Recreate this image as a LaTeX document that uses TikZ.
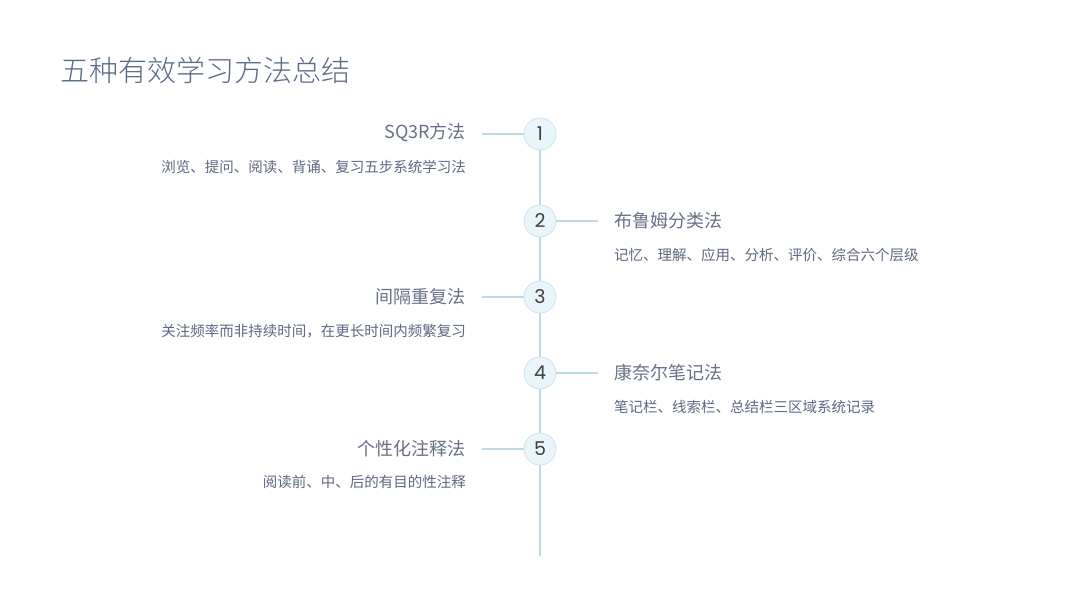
\documentclass[tikz,border=0pt]{standalone}
\usepackage{fontspec}
\newfontfamily\cjk{Noto Sans CJK SC}
\newfontfamily\cjklight{Noto Sans CJK SC Light}
\newfontfamily\numfont{Poppins}
\definecolor{titlec}{HTML}{5B6B88}
\definecolor{headc}{HTML}{687088}
\definecolor{descc}{HTML}{5E6883}
\definecolor{linec}{HTML}{BCD9E5}
\definecolor{circfill}{HTML}{E9F5FB}
\definecolor{circdraw}{HTML}{CBE4EF}
\begin{document}
\begin{tikzpicture}[x=1pt,y=-1pt,
  dot/.style={circle,draw=circdraw,fill=circfill,line width=0.8pt,minimum size=32pt,inner sep=0pt,font=\numfont\fontsize{19}{19}\selectfont,text=black!75},
  conn/.style={draw=linec,line width=1.2pt},
  headL/.style={anchor=east,font=\cjk\fontsize{18}{18}\selectfont,text=headc,inner sep=0pt},
  headR/.style={anchor=west,font=\cjk\fontsize{18}{18}\selectfont,text=headc,inner sep=0pt},
  descL/.style={anchor=east,font=\cjk\fontsize{14.5}{14.5}\selectfont,text=descc,inner sep=0pt},
  descR/.style={anchor=west,font=\cjk\fontsize{14.5}{14.5}\selectfont,text=descc,inner sep=0pt}]
\useasboundingbox (0,0) rectangle (1080,608);
\fill[white] (0,0) rectangle (1080,608);
\node[anchor=west,inner sep=0pt,font=\cjklight\fontsize{29}{29}\selectfont,text=titlec] (title) at (60,70) {五种有效学习方法总结};
\coordinate (top) at (540,118);
\coordinate (bot) at (540,556);
\draw[conn] (top) -- (bot);
\node[dot] (d1) at (540,134) {1};
\node[dot] (d2) at (540,221) {2};
\node[dot] (d3) at (540,297) {3};
\node[dot] (d4) at (540,373) {4};
\node[dot] (d5) at (540,449) {5};
\coordinate (c1) at (482,134);
\coordinate (c3) at (482,297);
\coordinate (c5) at (482,449);
\coordinate (c2) at (598,221);
\coordinate (c4) at (598,373);
\draw[conn] (d1) -- (c1);
\draw[conn] (d3) -- (c3);
\draw[conn] (d5) -- (c5);
\draw[conn] (d2) -- (c2);
\draw[conn] (d4) -- (c4);
\node[headL] (h1) at (466,133) {SQ3R方法};
\node[descL] (s1) at (466,167) {浏览、提问、阅读、背诵、复习五步系统学习法};
\node[headR] (h2) at (614,221) {布鲁姆分类法};
\node[descR] (s2) at (614,255) {记忆、理解、应用、分析、评价、综合六个层级};
\node[headL] (h3) at (466,297) {间隔重复法};
\node[descL] (s3) at (466,331) {关注频率而非持续时间，在更长时间内频繁复习};
\node[headR] (h4) at (614,373) {康奈尔笔记法};
\node[descR] (s4) at (614,407) {笔记栏、线索栏、总结栏三区域系统记录};
\node[headL] (h5) at (466,449) {个性化注释法};
\node[descL] (s5) at (466,482) {阅读前、中、后的有目的性注释};
\end{tikzpicture}
\end{document}
